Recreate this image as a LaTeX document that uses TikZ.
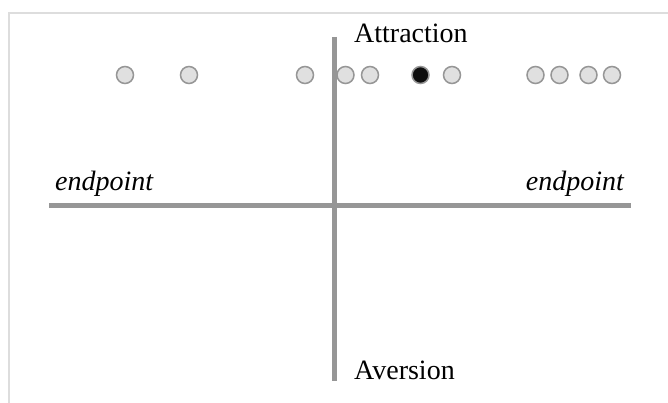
\documentclass[tikz,border=0pt]{standalone}
\usepackage{fontspec}
\setmainfont{Liberation Serif}
\begin{document}
\begin{tikzpicture}[x=1pt,y=-1pt,
  axis/.style={draw={rgb,255:red,150;green,150;blue,150},line width=4.5pt},
  dot/.style={circle,draw={rgb,255:red,150;green,150;blue,150},line width=1.5pt,fill={rgb,255:red,224;green,224;blue,224},minimum size=17pt,inner sep=0pt},
  blackdot/.style={dot,fill={rgb,255:red,15;green,15;blue,15}},
  lbl/.style={font=\fontsize{28}{33}\selectfont,inner sep=0pt},
  frame/.style={draw={rgb,255:red,221;green,221;blue,221},line width=1.5pt}
]
\useasboundingbox (0,0) rectangle (668,403);
\draw[frame] (9,403) -- (9,13) -- (668,13);
\coordinate (vt) at (334.5,37);
\coordinate (vb) at (334.5,381);
\coordinate (hl) at (49,205.5);
\coordinate (hr) at (631,205.5);
\draw[axis] (hl) -- (hr);
\draw[axis] (vt) -- (vb);
\node[lbl,anchor=base west] (attr) at (354,42.5) {Attraction};
\node[lbl,anchor=base west] (aver) at (354,379) {Aversion};
\node[lbl,anchor=base west,font=\fontsize{28}{33}\selectfont\itshape] (epl) at (55,190) {endpoint};
\node[lbl,anchor=base east,font=\fontsize{28}{33}\selectfont\itshape] (epr) at (624,190) {endpoint};
\foreach \x [count=\i] in {125,189,305,345.5,370,452,535.5,559.5,588.5,612}
  \node[dot] (c\i) at (\x,75) {};
\node[blackdot] (cb) at (420.5,75) {};
\end{tikzpicture}
\end{document}
